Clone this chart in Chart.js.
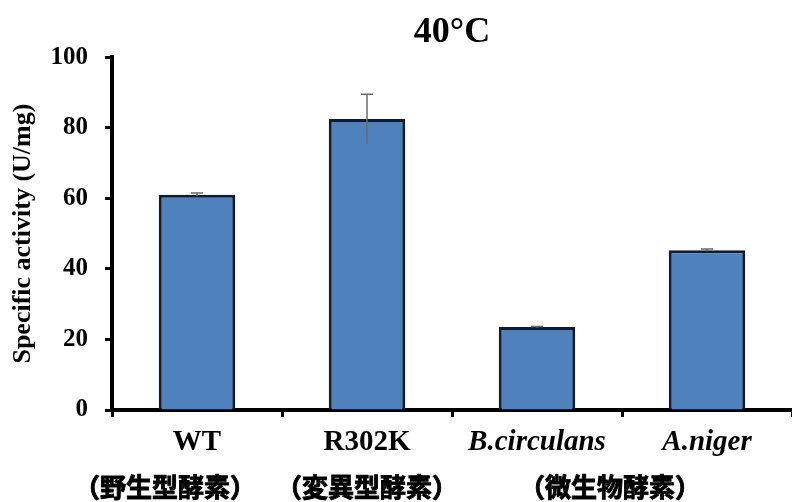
<!DOCTYPE html>
<html>
<head>
<meta charset="utf-8">
<script src="https://cdn.jsdelivr.net/npm/chart.js@4/dist/chart.umd.min.js"></script>
<style>
  html, body { margin: 0; padding: 0; background: #fff; }
  #chart { display: block; }
</style>
</head>
<body>
<canvas id="chart" width="792" height="502"></canvas>
<script>
// Chart data
const categories = ['WT', 'R302K', 'B.circulans', 'A.niger'];
const activity = [61, 82.5, 23.5, 45.3];
const activityErr = [0.5, 7, 0.2, 0.3];
const yTicks = [0, 20, 40, 60, 80, 100];
const jpLabels = ['（野生型酵素）', '（変異型酵素）', '（微生物酵素）'];

const SERIF = "'Liberation Serif', 'Times New Roman', serif";
const CJK = "'Noto Sans CJK JP', 'Noto Sans CJK SC', sans-serif";

// Gray error bars with a cap on top
const errorBarPlugin = {
    id: 'errorBars',
    afterDatasetsDraw(chart) {
        const ctx = chart.ctx;
        const y = chart.scales.y;
        const meta = chart.getDatasetMeta(0);
        ctx.save();
        ctx.strokeStyle = '#6b6b6b';
        ctx.lineWidth = 1.5;
        meta.data.forEach((bar, i) => {
            const top = y.getPixelForValue(activity[i] + activityErr[i]);
            const bottom = y.getPixelForValue(activity[i] - activityErr[i]);
            ctx.beginPath();
            ctx.moveTo(bar.x, bottom);
            ctx.lineTo(bar.x, top);
            ctx.moveTo(bar.x - 6, top);
            ctx.lineTo(bar.x + 6, top);
            ctx.stroke();
        });
        ctx.restore();
    }
};

// Second line of the x labels (Japanese), thickened with a thin stroke
const jpLabelPlugin = {
    id: 'jpLabels',
    afterDraw(chart) {
        const ctx = chart.ctx;
        const x = chart.scales.x;
        const xs = [
            x.getPixelForValue(0) - 32,
            x.getPixelForValue(1),
            (x.getPixelForValue(2) + x.getPixelForValue(3)) / 2 - 12
        ];
        ctx.save();
        ctx.fillStyle = '#000';
        ctx.strokeStyle = '#000';
        ctx.lineWidth = 0.9;
        ctx.font = 'bold 26px ' + CJK;
        ctx.textAlign = 'center';
        ctx.textBaseline = 'middle';
        jpLabels.forEach((t, i) => {
            ctx.fillText(t, xs[i], 487);
            ctx.strokeText(t, xs[i], 487);
        });
        ctx.restore();
    }
};

new Chart(document.getElementById('chart'), {
    type: 'bar',
    data: {
        labels: categories,
        datasets: [{
            data: activity,
            backgroundColor: '#4f81bd',
            borderColor: '#0f1c2e',
            borderWidth: 3,
            barPercentage: 0.45,
            categoryPercentage: 1
        }]
    },
    options: {
        responsive: false,
        animation: false,
        events: [],
        layout: { padding: 0 },
        plugins: {
            legend: { display: false },
            tooltip: { enabled: false },
            title: {
                display: true,
                text: '40°C',
                fullSize: false,
                color: '#000',
                font: { family: SERIF, size: 36, weight: 'bold' },
                padding: { top: 11, bottom: 3 }
            }
        },
        scales: {
            x: {
                afterFit: s => { s.height = 92; },
                border: { display: true, color: '#000', width: 4 },
                grid: {
                    offset: true,
                    drawOnChartArea: false,
                    drawTicks: true,
                    tickLength: 7,
                    tickColor: '#000',
                    tickWidth: 3
                },
                ticks: {
                    color: '#000',
                    padding: 8,
                    font: c => ({
                        family: SERIF,
                        size: 29,
                        weight: 'bold',
                        style: c.index >= 2 ? 'italic' : 'normal'
                    })
                }
            },
            y: {
                min: 0,
                max: 100,
                afterFit: s => { s.width = 112; },
                afterBuildTicks: s => { s.ticks = yTicks.map(v => ({ value: v })); },
                border: { display: true, color: '#000', width: 4 },
                grid: {
                    drawOnChartArea: false,
                    drawTicks: true,
                    tickLength: 7,
                    tickColor: '#000',
                    tickWidth: 3
                },
                ticks: {
                    color: '#000',
                    padding: 17,
                    font: { family: SERIF, size: 25, weight: 'bold' }
                },
                title: {
                    display: true,
                    text: 'Specific activity (U/mg)',
                    color: '#000',
                    font: { family: SERIF, size: 26, weight: 'bold' },
                    padding: { top: 8, bottom: 0 }
                }
            }
        }
    },
    plugins: [errorBarPlugin, jpLabelPlugin]
});
</script>
</body>
</html>
